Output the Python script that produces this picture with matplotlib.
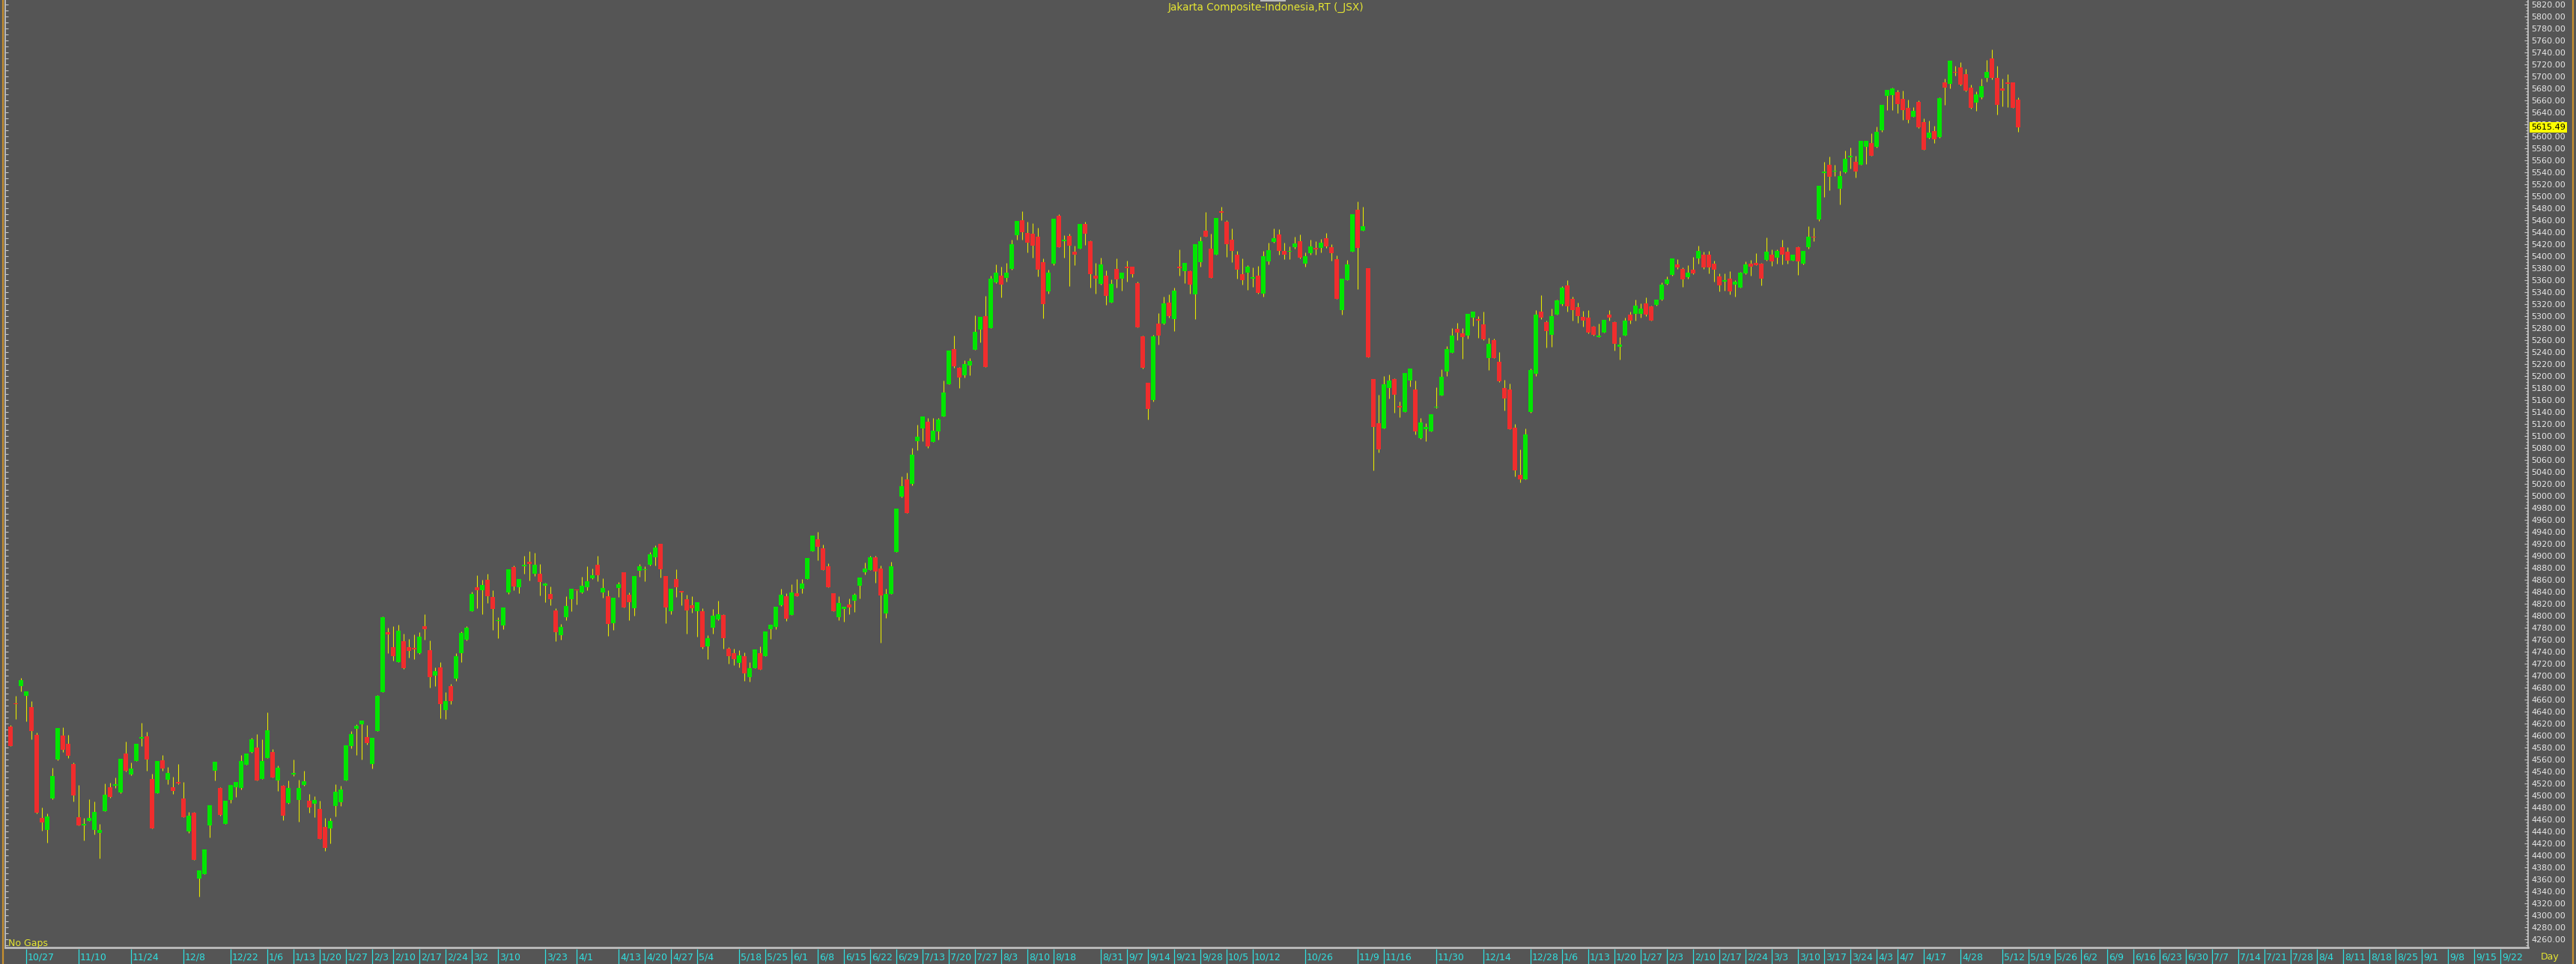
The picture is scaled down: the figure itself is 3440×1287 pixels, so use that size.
import numpy as np
import matplotlib
matplotlib.use('Agg')
import matplotlib.pyplot as plt
import matplotlib.transforms as mtransforms
from matplotlib.ticker import MultipleLocator, FormatStrFormatter
from matplotlib.lines import Line2D
from matplotlib.patches import Rectangle

# daily OHLC
opens = [4615, 4654, 4682, 4666, 4647, 4601, 4463, 4442, 4495, 4560,
         4600, 4586, 4553, 4464, 4450, 4458, 4442, 4438, 4474, 4514,
         4516, 4505, 4570, 4535, 4557, 4595, 4599, 4527, 4504, 4559,
         4526, 4514, 4523, 4495, 4440, 4471, 4361, 4369, 4450, 4541,
         4513, 4452, 4493, 4514, 4512, 4551, 4572, 4580, 4527, 4563,
         4573, 4525, 4516, 4487, 4535, 4492, 4518, 4491, 4486, 4477,
         4447, 4445, 4483, 4489, 4525, 4582, 4611, 4619, 4598, 4552,
         4607, 4673, 4773, 4748, 4723, 4757, 4748, 4745, 4737, 4783,
         4743, 4700, 4714, 4643, 4682, 4695, 4738, 4760, 4808, 4848,
         4843, 4860, 4831, 4791, 4784, 4839, 4881, 4848, 4882, 4890,
         4870, 4870, 4850, 4836, 4809, 4767, 4797, 4827, 4843, 4839,
         4848, 4862, 4885, 4839, 4833, 4788, 4846, 4872, 4835, 4812,
         4875, 4876, 4885, 4898, 4920, 4866, 4807, 4861, 4840, 4828,
         4818, 4808, 4808, 4749, 4780, 4794, 4801, 4745, 4737, 4721,
         4732, 4698, 4713, 4738, 4733, 4777, 4781, 4817, 4833, 4801,
         4837, 4845, 4861, 4907, 4927, 4912, 4882, 4838, 4797, 4811,
         4819, 4825, 4850, 4873, 4876, 4897, 4879, 4804, 4836, 4906,
         4999, 5027, 5020, 5091, 5113, 5124, 5090, 5108, 5132, 5186,
         5245, 5214, 5201, 5218, 5244, 5278, 5300, 5280, 5356, 5367,
         5364, 5379, 5435, 5460, 5439, 5438, 5432, 5390, 5341, 5387,
         5468, 5425, 5434, 5407, 5413, 5454, 5425, 5368, 5354, 5368,
         5322, 5379, 5362, 5382, 5382, 5355, 5266, 5189, 5160, 5287,
         5288, 5322, 5295, 5382, 5375, 5375, 5336, 5390, 5442, 5412,
         5403, 5475, 5458, 5427, 5403, 5370, 5372, 5363, 5367, 5338,
         5391, 5424, 5436, 5409, 5407, 5415, 5425, 5387, 5405, 5414,
         5414, 5430, 5415, 5395, 5310, 5360, 5407, 5478, 5443, 5380,
         5195, 5121, 5112, 5180, 5195, 5150, 5140, 5192, 5178, 5096,
         5111, 5108, 5147, 5168, 5208, 5239, 5279, 5271, 5268, 5298,
         5295, 5286, 5230, 5260, 5224, 5180, 5178, 5114, 5035, 5028,
         5140, 5204, 5307, 5290, 5269, 5302, 5320, 5351, 5329, 5315,
         5299, 5298, 5283, 5265, 5273, 5302, 5290, 5249, 5267, 5302,
         5304, 5304, 5321, 5316, 5319, 5327, 5354, 5369, 5386, 5379,
         5365, 5378, 5396, 5402, 5402, 5388, 5366, 5357, 5363, 5353,
         5348, 5371, 5387, 5389, 5388, 5394, 5402, 5397, 5415, 5407,
         5393, 5415, 5388, 5415, 5433, 5461, 5539, 5552, 5541, 5512,
         5540, 5565, 5558, 5553, 5582, 5589, 5583, 5610, 5668, 5669,
         5674, 5662, 5647, 5633, 5658, 5624, 5597, 5609, 5599, 5690,
         5687, 5707, 5715, 5704, 5681, 5656, 5665, 5698, 5730, 5698,
         5680, 5690, 5690, 5661]
highs = [4617, 4666, 4696, 4674, 4657, 4605, 4480, 4470, 4546, 4613,
         4614, 4601, 4555, 4518, 4463, 4494, 4490, 4452, 4520, 4521,
         4530, 4561, 4590, 4555, 4586, 4621, 4606, 4536, 4558, 4568,
         4548, 4531, 4553, 4522, 4473, 4472, 4375, 4410, 4484, 4556,
         4514, 4491, 4517, 4522, 4567, 4570, 4596, 4603, 4594, 4639,
         4577, 4550, 4518, 4525, 4560, 4526, 4541, 4503, 4499, 4491,
         4463, 4463, 4519, 4516, 4584, 4607, 4619, 4625, 4618, 4596,
         4668, 4799, 4780, 4782, 4785, 4770, 4761, 4769, 4773, 4803,
         4759, 4714, 4722, 4673, 4686, 4737, 4774, 4782, 4840, 4868,
         4860, 4870, 4842, 4797, 4814, 4877, 4884, 4861, 4900, 4908,
         4905, 4886, 4855, 4849, 4813, 4786, 4832, 4845, 4843, 4865,
         4883, 4879, 4900, 4862, 4843, 4830, 4856, 4873, 4839, 4866,
         4886, 4882, 4906, 4917, 4920, 4866, 4845, 4877, 4840, 4835,
         4833, 4822, 4812, 4767, 4811, 4825, 4802, 4748, 4745, 4742,
         4739, 4723, 4744, 4749, 4774, 4785, 4815, 4845, 4837, 4852,
         4861, 4861, 4896, 4934, 4940, 4919, 4887, 4838, 4833, 4815,
         4829, 4838, 4864, 4889, 4900, 4900, 4884, 4845, 4890, 4979,
         5032, 5039, 5080, 5119, 5133, 5130, 5130, 5130, 5193, 5242,
         5268, 5215, 5226, 5230, 5301, 5299, 5334, 5368, 5386, 5382,
         5389, 5427, 5459, 5475, 5457, 5455, 5448, 5396, 5377, 5462,
         5470, 5435, 5438, 5418, 5454, 5457, 5426, 5389, 5398, 5376,
         5361, 5396, 5373, 5392, 5382, 5358, 5268, 5189, 5269, 5305,
         5332, 5336, 5347, 5411, 5389, 5376, 5420, 5433, 5474, 5437,
         5464, 5482, 5460, 5446, 5409, 5396, 5385, 5381, 5384, 5409,
         5423, 5446, 5445, 5423, 5416, 5433, 5436, 5406, 5427, 5425,
         5429, 5439, 5420, 5401, 5362, 5394, 5470, 5491, 5482, 5380,
         5195, 5169, 5200, 5202, 5196, 5158, 5205, 5212, 5193, 5130,
         5121, 5136, 5181, 5211, 5250, 5280, 5289, 5280, 5304, 5308,
         5300, 5307, 5264, 5262, 5240, 5194, 5188, 5120, 5077, 5112,
         5213, 5310, 5335, 5293, 5313, 5327, 5350, 5360, 5332, 5323,
         5309, 5310, 5284, 5288, 5294, 5310, 5291, 5265, 5297, 5307,
         5327, 5321, 5331, 5317, 5328, 5356, 5366, 5396, 5395, 5381,
         5385, 5399, 5418, 5407, 5409, 5393, 5371, 5371, 5375, 5360,
         5374, 5391, 5394, 5405, 5389, 5431, 5411, 5411, 5427, 5415,
         5403, 5416, 5409, 5450, 5448, 5518, 5558, 5566, 5553, 5542,
         5576, 5581, 5567, 5593, 5593, 5605, 5616, 5653, 5677, 5681,
         5677, 5676, 5661, 5649, 5660, 5630, 5626, 5618, 5665, 5696,
         5726, 5717, 5724, 5713, 5686, 5675, 5696, 5727, 5745, 5717,
         5696, 5704, 5690, 5665]
lows = [4582, 4627, 4674, 4624, 4594, 4470, 4441, 4421, 4494, 4559,
        4573, 4563, 4490, 4450, 4425, 4457, 4435, 4395, 4474, 4496,
        4513, 4504, 4540, 4534, 4557, 4582, 4541, 4445, 4504, 4541,
        4519, 4502, 4519, 4464, 4438, 4393, 4331, 4369, 4430, 4525,
        4466, 4452, 4487, 4498, 4510, 4551, 4571, 4525, 4527, 4562,
        4530, 4507, 4459, 4486, 4533, 4456, 4516, 4471, 4464, 4427,
        4408, 4420, 4465, 4483, 4525, 4579, 4568, 4560, 4585, 4545,
        4607, 4673, 4737, 4725, 4723, 4711, 4730, 4727, 4736, 4760,
        4680, 4682, 4629, 4627, 4652, 4691, 4723, 4759, 4808, 4813,
        4802, 4821, 4776, 4762, 4777, 4836, 4843, 4837, 4870, 4859,
        4866, 4834, 4822, 4818, 4758, 4760, 4792, 4808, 4819, 4838,
        4843, 4861, 4858, 4830, 4766, 4776, 4831, 4814, 4793, 4800,
        4865, 4857, 4884, 4884, 4864, 4788, 4802, 4831, 4818, 4770,
        4805, 4765, 4745, 4728, 4770, 4792, 4745, 4720, 4717, 4714,
        4691, 4690, 4713, 4710, 4733, 4761, 4777, 4816, 4791, 4801,
        4833, 4838, 4861, 4907, 4893, 4876, 4848, 4807, 4792, 4790,
        4802, 4806, 4829, 4869, 4876, 4855, 4755, 4796, 4836, 4906,
        4997, 4971, 5018, 5076, 5091, 5080, 5090, 5094, 5132, 5186,
        5214, 5180, 5198, 5201, 5244, 5256, 5215, 5280, 5355, 5331,
        5357, 5377, 5427, 5427, 5406, 5397, 5366, 5296, 5338, 5385,
        5415, 5398, 5350, 5385, 5412, 5419, 5348, 5337, 5352, 5319,
        5322, 5348, 5342, 5357, 5365, 5281, 5212, 5128, 5158, 5252,
        5286, 5298, 5275, 5368, 5355, 5337, 5295, 5382, 5432, 5364,
        5402, 5460, 5399, 5390, 5363, 5352, 5344, 5349, 5338, 5332,
        5386, 5423, 5402, 5395, 5395, 5412, 5396, 5382, 5403, 5402,
        5406, 5414, 5393, 5329, 5303, 5360, 5407, 5345, 5443, 5231,
        5043, 5073, 5112, 5163, 5139, 5131, 5140, 5182, 5103, 5095,
        5091, 5108, 5146, 5167, 5200, 5239, 5260, 5229, 5263, 5284,
        5264, 5260, 5210, 5230, 5190, 5142, 5111, 5033, 5023, 5028,
        5139, 5200, 5295, 5247, 5249, 5302, 5318, 5308, 5293, 5289,
        5283, 5271, 5268, 5265, 5272, 5293, 5243, 5228, 5267, 5287,
        5292, 5297, 5300, 5293, 5318, 5326, 5353, 5368, 5379, 5349,
        5363, 5370, 5388, 5379, 5371, 5358, 5341, 5343, 5336, 5332,
        5347, 5370, 5368, 5385, 5351, 5393, 5384, 5387, 5386, 5387,
        5392, 5369, 5386, 5412, 5425, 5459, 5499, 5510, 5534, 5486,
        5539, 5546, 5531, 5553, 5554, 5567, 5581, 5607, 5644, 5644,
        5639, 5628, 5622, 5632, 5614, 5577, 5596, 5589, 5598, 5653,
        5680, 5701, 5685, 5675, 5646, 5643, 5662, 5691, 5695, 5636,
        5650, 5649, 5647, 5608]
closes = [4583, 4652, 4692, 4674, 4608, 4471, 4455, 4465, 4533, 4612,
          4576, 4566, 4500, 4450, 4452, 4462, 4473, 4442, 4501, 4497,
          4519, 4561, 4541, 4545, 4586, 4597, 4560, 4445, 4558, 4545,
          4538, 4508, 4520, 4464, 4466, 4393, 4375, 4410, 4484, 4556,
          4467, 4491, 4517, 4522, 4557, 4570, 4594, 4525, 4558, 4609,
          4530, 4546, 4466, 4513, 4537, 4513, 4524, 4480, 4492, 4427,
          4413, 4457, 4506, 4510, 4584, 4602, 4616, 4625, 4587, 4596,
          4666, 4798, 4769, 4732, 4775, 4713, 4741, 4744, 4765, 4778,
          4697, 4708, 4653, 4657, 4657, 4733, 4771, 4780, 4836, 4843,
          4851, 4832, 4811, 4793, 4814, 4877, 4849, 4861, 4885, 4886,
          4885, 4856, 4854, 4827, 4773, 4781, 4816, 4845, 4842, 4850,
          4857, 4868, 4867, 4846, 4786, 4830, 4852, 4814, 4823, 4866,
          4882, 4877, 4902, 4914, 4878, 4814, 4845, 4847, 4839, 4809,
          4812, 4822, 4748, 4763, 4800, 4802, 4762, 4732, 4728, 4734,
          4704, 4713, 4744, 4710, 4774, 4785, 4815, 4835, 4795, 4839,
          4833, 4854, 4896, 4934, 4915, 4876, 4848, 4807, 4821, 4815,
          4814, 4835, 4864, 4879, 4897, 4874, 4834, 4836, 4882, 4979,
          5016, 4971, 5069, 5099, 5133, 5083, 5109, 5127, 5172, 5242,
          5216, 5197, 5220, 5225, 5274, 5299, 5215, 5362, 5373, 5352,
          5373, 5420, 5459, 5440, 5423, 5418, 5377, 5320, 5372, 5462,
          5415, 5427, 5417, 5403, 5454, 5438, 5370, 5362, 5386, 5334,
          5354, 5361, 5373, 5380, 5370, 5281, 5214, 5145, 5266, 5267,
          5321, 5300, 5342, 5380, 5389, 5352, 5420, 5425, 5432, 5364,
          5464, 5472, 5420, 5409, 5377, 5360, 5382, 5365, 5339, 5400,
          5410, 5430, 5409, 5403, 5409, 5421, 5397, 5400, 5416, 5411,
          5422, 5416, 5405, 5329, 5362, 5386, 5470, 5414, 5450, 5231,
          5115, 5078, 5186, 5193, 5169, 5148, 5205, 5212, 5108, 5122,
          5115, 5136, 5149, 5199, 5245, 5268, 5273, 5265, 5304, 5308,
          5293, 5261, 5254, 5230, 5191, 5162, 5111, 5042, 5028, 5102,
          5210, 5303, 5297, 5275, 5300, 5326, 5348, 5316, 5310, 5300,
          5293, 5273, 5269, 5268, 5294, 5298, 5254, 5252, 5292, 5293,
          5317, 5312, 5302, 5293, 5327, 5353, 5361, 5396, 5381, 5361,
          5372, 5371, 5409, 5381, 5381, 5378, 5351, 5360, 5341, 5358,
          5372, 5386, 5382, 5385, 5363, 5408, 5391, 5409, 5403, 5393,
          5402, 5391, 5409, 5432, 5431, 5518, 5541, 5533, 5543, 5534,
          5563, 5567, 5541, 5592, 5593, 5568, 5607, 5652, 5677, 5680,
          5654, 5644, 5628, 5643, 5615, 5577, 5606, 5595, 5664, 5681,
          5726, 5706, 5686, 5676, 5647, 5670, 5684, 5707, 5697, 5653,
          5676, 5688, 5647, 5615.49]

# date labels: bar index -> label (after the last bar the grid runs weekly)
tick_pos = [3, 13, 23, 33, 42, 49, 54, 59, 64, 69, 73, 78, 83, 88, 93, 102,
            108, 116, 121, 126, 131, 139, 144, 149, 154, 159, 164, 169, 174,
            179, 184, 189, 194, 199, 208, 213, 217, 222, 227, 232, 237, 247,
            257, 262, 272, 281, 290, 296, 301, 306, 311, 316, 321, 326, 331,
            336, 341, 346, 351, 356, 360, 365, 372, 380,
            385, 390, 395, 400, 405, 410, 415, 420, 425, 430, 435, 440, 445,
            450, 455, 460, 465, 470, 475]
tick_labels = ['10/27', '11/10', '11/24', '12/8', '12/22', '1/6', '1/13', '1/20',
               '1/27', '2/3', '2/10', '2/17', '2/24', '3/2', '3/10', '3/23',
               '4/1', '4/13', '4/20', '4/27', '5/4', '5/18', '5/25', '6/1',
               '6/8', '6/15', '6/22', '6/29', '7/13', '7/20', '7/27', '8/3',
               '8/10', '8/18', '8/31', '9/7', '9/14', '9/21', '9/28', '10/5',
               '10/12', '10/26', '11/9', '11/16', '11/30', '12/14', '12/28',
               '1/6', '1/13', '1/20', '1/27', '2/3', '2/10', '2/17', '2/24',
               '3/3', '3/10', '3/17', '3/24', '4/3', '4/7', '4/17', '4/28',
               '5/12', '5/19', '5/26', '6/2', '6/9', '6/16', '6/23', '6/30',
               '7/7', '7/14', '7/21', '7/28', '8/4', '8/11', '8/18', '8/25',
               '9/1', '9/8', '9/15', '9/22']

title = 'Jakarta Composite-Indonesia,RT (_JSX)'
last_price = 5615.49

BG = '#555555'
GREEN = '#00E600'
RED = '#F02D2D'
WICK = '#E6E600'
CYAN = '#30E0E0'
YEL = '#E6E632'
AXC = '#C8C8C8'
ORANGE = '#C8902E'
NARROW = ['Liberation Sans Narrow', 'DejaVu Sans']

W, H = 3440, 1287
fig = plt.figure(figsize=(W / 100, H / 100), dpi=100, facecolor=BG)

left_px, right_px, band_px = 6.5, 3376, 22
ax = fig.add_axes([left_px / W, band_px / H, (right_px - left_px) / W, 1 - band_px / H])
ax.set_facecolor(BG)

o = np.array(opens, dtype=float)
h = np.array(highs, dtype=float)
l = np.array(lows, dtype=float)
c = np.array(closes, dtype=float)
x = np.arange(len(o))
up = c >= o
bot = np.minimum(o, c)
hgt = np.maximum(np.abs(c - o), 2.0)

ax.vlines(x, l, h, color=WICK, lw=0.8, zorder=2)
ax.bar(x[up], hgt[up], bottom=bot[up], width=0.72, color=GREEN, linewidth=0, zorder=3)
ax.bar(x[~up], hgt[~up], bottom=bot[~up], width=0.72, color=RED, linewidth=0, zorder=3)

# 7 px per bar, first bar centre at x=14
ax.set_xlim((left_px - 14) / 7, (right_px - 14) / 7)
ax.set_ylim(4246.25, 5827.5)

for s in ['top', 'right']:
    ax.spines[s].set_visible(False)
ax.spines['left'].set_color(AXC)
ax.spines['left'].set_linewidth(1.2)
ax.spines['bottom'].set_color('#BEBEBE')
ax.spines['bottom'].set_linewidth(2)
ax.set_xticks([])
ax.yaxis.set_major_locator(MultipleLocator(10))
ax.tick_params(axis='y', which='major', direction='in', left=True, right=False,
               labelleft=False, length=3, width=0.8, color=AXC)

# right price scale
ax2 = ax.twinx()
ax2.set_ylim(ax.get_ylim())
for s in ['top', 'left', 'bottom']:
    ax2.spines[s].set_visible(False)
ax2.spines['right'].set_color(AXC)
ax2.spines['right'].set_linewidth(1.2)
ax2.yaxis.set_major_locator(MultipleLocator(20))
ax2.yaxis.set_minor_locator(MultipleLocator(5))
ax2.yaxis.set_major_formatter(FormatStrFormatter('%.2f'))
ax2.tick_params(axis='y', which='both', direction='in', color=AXC, width=0.8)
ax2.tick_params(axis='y', which='major', length=3.5, pad=3, labelsize=8, labelcolor='#E8E8E8')
ax2.tick_params(axis='y', which='minor', length=2.5)

trans = mtransforms.blended_transform_factory(ax2.transAxes, ax2.transData)
ax2.text(1.0012, last_price, '%.2f' % last_price, transform=trans, ha='left', va='center',
         fontsize=8, color='black', zorder=10, clip_on=False,
         bbox=dict(boxstyle='square,pad=0.18', fc='#FFFF00', ec='none'))

# date band under the plot
band = fig.add_axes([left_px / W, 0, (right_px - left_px) / W, (band_px - 2) / H], sharex=ax)
band.set_facecolor(BG)
band.axis('off')
band.set_ylim(0, 1)
band.vlines(tick_pos, 0, 1, color=CYAN, lw=0.9)
for p, t in zip(tick_pos, tick_labels):
    band.text(p + 0.3, 0.45, t, color=CYAN, fontsize=9, family=NARROW,
              ha='left', va='center')

fig.text(1560 / W, 1 - 9.5 / H, title, color=YEL, fontsize=9.8, ha='left', va='center')
fig.text(11 / W, 1 - 1259 / H, 'No Gaps', color=YEL, fontsize=9, family=NARROW,
         ha='left', va='center')
fig.text(3393 / W, 1 - 1277 / H, 'Day', color=YEL, fontsize=9, family=NARROW,
         ha='left', va='center')

# window frame bits
fig.add_artist(Line2D([3.5 / W, 3.5 / W], [0, 1], transform=fig.transFigure, color=ORANGE, lw=1.6))
fig.add_artist(Line2D([3436 / W, 3436 / W], [0, 1], transform=fig.transFigure, color=ORANGE, lw=1.6))
fig.add_artist(Rectangle((1683 / W, 1 - 2 / H), 34 / W, 2 / H, transform=fig.transFigure,
                         color='#BBBBBB', lw=0))

fig.savefig('out.png', dpi=100, facecolor=BG)
